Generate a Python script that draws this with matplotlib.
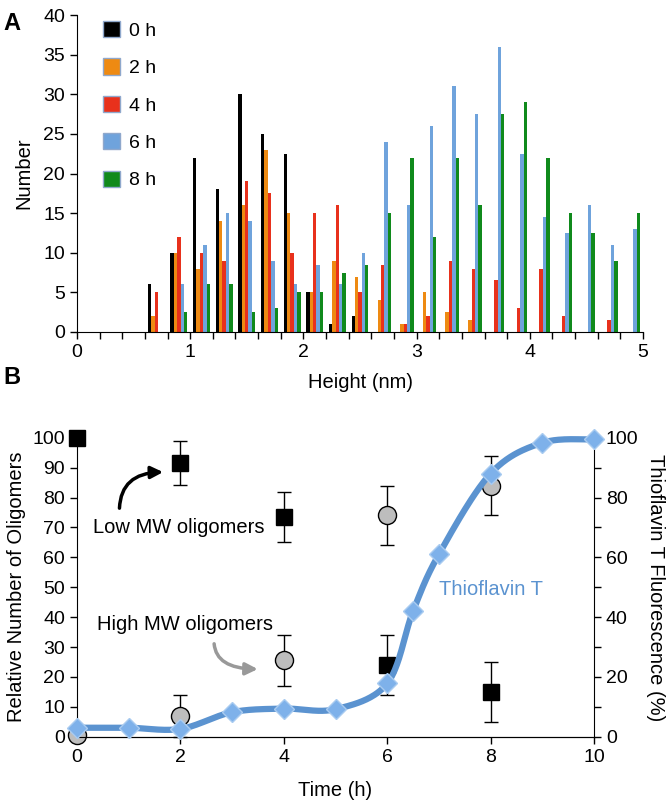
import numpy as np
import matplotlib
matplotlib.use("Agg")
import matplotlib.pyplot as plt
from matplotlib.patches import Patch

plt.rcParams['font.family'] = ['Liberation Sans', 'DejaVu Sans']
plt.rcParams['font.size'] = 14

# ---- panel A: height histograms ----
bins = np.round(np.arange(0.6, 4.81, 0.2), 1)   # left edges of 0.2 nm bins
series_labels = ['0 h', '2 h', '4 h', '6 h', '8 h']
series_colors = ['#000000', '#EE8A12', '#E8311C', '#6FA3DC', '#108A1C']
h0 = [6, 10, 22, 18, 30, 25, 22.5, 5, 1, 2, 0, 0, 0, 0, 0, 0, 0, 0, 0, 0, 0, 0]
h2 = [2, 10, 8, 14, 16, 23, 15, 5, 9, 7, 4, 1, 5, 2.5, 1.5, 0, 0, 0, 0, 0, 0, 0]
h4 = [5, 12, 10, 9, 19, 17.5, 10, 15, 16, 5, 8.5, 1, 2, 9, 8, 6.5, 3, 8, 2, 0, 1.5, 0]
h6 = [0, 6, 11, 15, 14, 9, 6, 8.5, 6, 10, 24, 16, 26, 31, 27.5, 36, 22.5, 14.5, 12.5, 16, 11, 13]
h8 = [0, 2.5, 6, 6, 2.5, 3, 5, 5, 7.5, 8.5, 15, 22, 12, 22, 16, 27.5, 29, 22, 15, 12.5, 9, 15]
counts = [h0, h2, h4, h6, h8]

# ---- panel B: oligomers and ThT ----
time_pts = [0, 2, 4, 6, 8]
low_mw = [100, 91.5, 73.5, 24, 15]
low_err = [0, 7.3, 8.5, 10, 10]
high_mw = [0.5, 7, 25.5, 74, 84]
high_err = [0, 7, 8.5, 10, 10]
tht_t = [0, 1, 2, 3, 4, 5, 6, 6.5, 7, 8, 9, 10]
tht_v = [3, 3, 2.6, 8.2, 9.4, 9.2, 17.8, 42, 61, 88, 98.3, 99.4]


def smooth(x, y, n=40):
    # Excel-like smoothed line (Catmull-Rom bezier segments)
    p = np.column_stack([x, y]).astype(float)
    p = np.vstack([p[0], p, p[-1]])
    out = []
    s = np.linspace(0, 1, n)[:, None]
    for i in range(1, len(p) - 2):
        b0 = p[i]
        b1 = p[i] + (p[i + 1] - p[i - 1]) / 6
        b2 = p[i + 1] - (p[i + 2] - p[i]) / 6
        b3 = p[i + 1]
        seg = ((1 - s) ** 3) * b0 + 3 * ((1 - s) ** 2) * s * b1 + 3 * (1 - s) * s ** 2 * b2 + s ** 3 * b3
        out.append(seg)
    out = np.vstack(out)
    return out[:, 0], out[:, 1]


fig = plt.figure(figsize=(6.66, 8.06), dpi=100)

axA = fig.add_axes([77 / 666, 1 - 332 / 806, 566 / 666, 317 / 806])
bw = 0.03
for i, (vals, col) in enumerate(zip(counts, series_colors)):
    axA.bar(bins + 0.025 + i * bw, vals, width=bw, align='edge', color=col, linewidth=0)
axA.set_xlim(0, 5)
axA.set_ylim(0, 40)
axA.set_yticks(np.arange(0, 41, 5))
xt = np.round(np.arange(0, 5.01, 0.2), 1)
axA.set_xticks(xt)
axA.set_xticklabels([str(int(v)) if abs(v - round(v)) < 1e-9 else '' for v in xt])
axA.spines[['top', 'right']].set_visible(False)
axA.tick_params(direction='out', length=5, width=1)
axA.set_xlabel('Height (nm)', fontsize=14.5, labelpad=9)
axA.set_ylabel('Number', fontsize=14.5, labelpad=7)
handles = [Patch(facecolor=c, edgecolor='#8FA8CC', linewidth=1) for c in series_colors]
axA.legend(handles, series_labels, loc='upper left', bbox_to_anchor=(0.028, 1.012),
           frameon=False, handlelength=0.9, handleheight=0.9, handletextpad=0.45,
           labelspacing=0.96, borderpad=0, fontsize=14)
fig.text(0.005, 0.985, 'A', fontsize=17, fontweight='bold', va='top')

# panel B
axB = fig.add_axes([77 / 666, 1 - 736.7 / 806, 517 / 666, 299 / 806])
axB.errorbar(time_pts, low_mw, yerr=low_err, fmt='s', color='black', ms=12,
             ecolor='black', elinewidth=1, capsize=5, capthick=1, clip_on=False, zorder=3)
axB.errorbar(time_pts, high_mw, yerr=high_err, fmt='o', ms=13, mfc='#BDBDBD', mec='black',
             mew=1, ecolor='black', elinewidth=1, capsize=5, capthick=1, clip_on=False, zorder=3)
axB.set_xlim(0, 10)
axB.set_ylim(0, 100)
axB.set_xticks(np.arange(0, 11, 2))
axB.set_yticks(np.arange(0, 101, 10))
axB.spines[['top', 'right']].set_visible(False)
axB.tick_params(direction='out', length=5, width=1)
axB.set_xlabel('Time (h)', fontsize=14.5, labelpad=11)
axB.set_ylabel('Relative Number of Oligomers', fontsize=14.5, labelpad=5)

ax2 = axB.twinx()
sx, sy = smooth(tht_t, tht_v)
ax2.plot(sx, sy, color='#5B93D0', lw=4.5, solid_capstyle='round', clip_on=False, zorder=2)
ax2.plot(tht_t, tht_v, 'D', ms=10, mfc='#7EB1EA', mec='#A9CBF0', mew=1, clip_on=False, zorder=3)
ax2.set_ylim(0, 100)
ax2.set_yticks(np.arange(0, 101, 10))
ax2.set_yticklabels([str(v) if v % 20 == 0 else '' for v in range(0, 101, 10)])
ax2.spines[['top', 'left']].set_visible(False)
ax2.tick_params(direction='out', length=5, width=1)
ax2.set_ylabel('Thioflavin T Fluorescence (%)', fontsize=14.5, rotation=270, labelpad=19)

axB.text(0.3, 69.8, 'Low MW oligomers', fontsize=14.5, va='center', ha='left')
axB.annotate('', xy=(1.72, 88.5), xytext=(0.82, 75.5),
             arrowprops=dict(arrowstyle='-|>', color='black', lw=2.5, mutation_scale=18,
                             connectionstyle='angle3,angleA=90,angleB=0'))
axB.text(0.38, 37.4, 'High MW oligomers', fontsize=14.5, va='center', ha='left')
axB.annotate('', xy=(3.55, 22.6), xytext=(2.65, 32),
             arrowprops=dict(arrowstyle='-|>', color='#999999', lw=2.5, mutation_scale=18,
                             connectionstyle='angle3,angleA=-90,angleB=0'))
axB.text(7.0, 49.1, 'Thioflavin T', fontsize=14.5, color='#5B93D0', va='center', ha='left')
fig.text(0.005, 1 - 377 / 806, 'B', fontsize=17, fontweight='bold', va='center')

fig.savefig('out.png', dpi=100)
